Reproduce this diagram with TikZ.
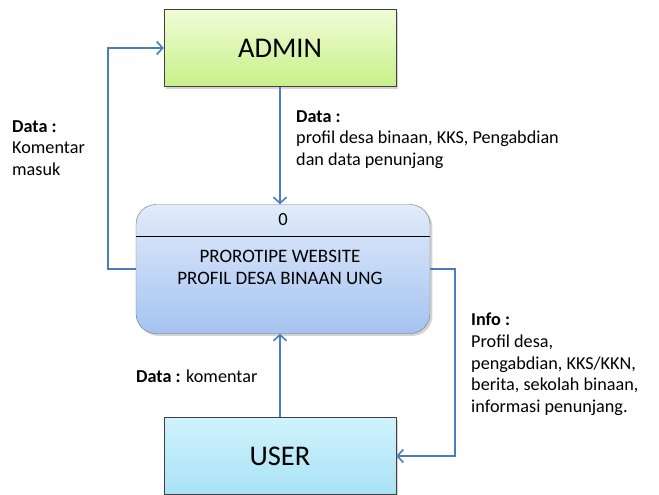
\documentclass[tikz,border=0pt]{standalone}
\usepackage{fontspec}
\setmainfont{Carlito}
\usepackage{xcolor}
\usetikzlibrary{arrows.meta,positioning,shadows}

\definecolor{flowblue}{RGB}{74,126,187}

\begin{document}
\begin{tikzpicture}[x=1pt, y=-1pt,
  ent/.style={draw=black!75, thin, minimum width=232pt, minimum height=77pt,
              font=\fontsize{28.5}{30}\selectfont, drop shadow={opacity=0.35}},
  proc/.style={draw=black!55, thin, rounded corners=20pt, minimum width=294pt,
               minimum height=129pt, drop shadow={opacity=0.35},
               top color={rgb,255:red,225;green,235;blue,251},
               bottom color={rgb,255:red,165;green,195;blue,240}},
  lbl/.style={anchor=north west, align=left, inner sep=0pt,
              font=\fontsize{18.2}{21.6}\selectfont},
  flow/.style={draw=flowblue, line width=1.6pt,
               -{Straight Barb[length=6pt, width=13pt, line width=1.6pt]}}]
\useasboundingbox (0,0) rectangle (659,495);
\node[ent, top color={rgb,255:red,240;green,252;blue,214},
      bottom color={rgb,255:red,200;green,240;blue,138}] (admin) at (280,48) {ADMIN};
\node[proc] (process) at (283,269) {};
\node[font=\fontsize{18.5}{20}\selectfont] (num) at (283,220) {0};
\draw[black, line width=1.3pt] ([yshift=-32pt]process.north west) -- ([yshift=-32pt]process.north east);
\node[align=center, font=\fontsize{19}{22}\selectfont] (ptext) at (280,267)
  {PROROTIPE WEBSITE\\PROFIL DESA BINAAN UNG};
\node[ent, top color={rgb,255:red,208;green,243;blue,252},
      bottom color={rgb,255:red,168;green,226;blue,246}] (user) at (280,456) {USER};
% flows
\draw[flow] (admin.south) -- (admin.south |- process.north);
\draw[flow] (user.north) -- (user.north |- process.south);
\draw[flow] (process.west) -- ++(-28,0) |- (admin.west);
\draw[flow] (process.east) -- ++(25,0) |- (user.east);
% labels
\node[lbl] (kom) at (12,120) {\textbf{Data :}\\Komentar\\masuk};
\node[lbl] (dat) at (296,110) {\textbf{Data :}\\profil desa binaan, KKS, Pengabdian\\dan data penunjang};
\node[lbl] (inf) at (471,313) {\textbf{Info :}\\Profil desa,\\pengabdian, KKS/KKN,\\berita, sekolah binaan,\\informasi penunjang.};
\node[lbl] (usr) at (136,370) {\textbf{Data :} komentar};
\end{tikzpicture}
\end{document}
